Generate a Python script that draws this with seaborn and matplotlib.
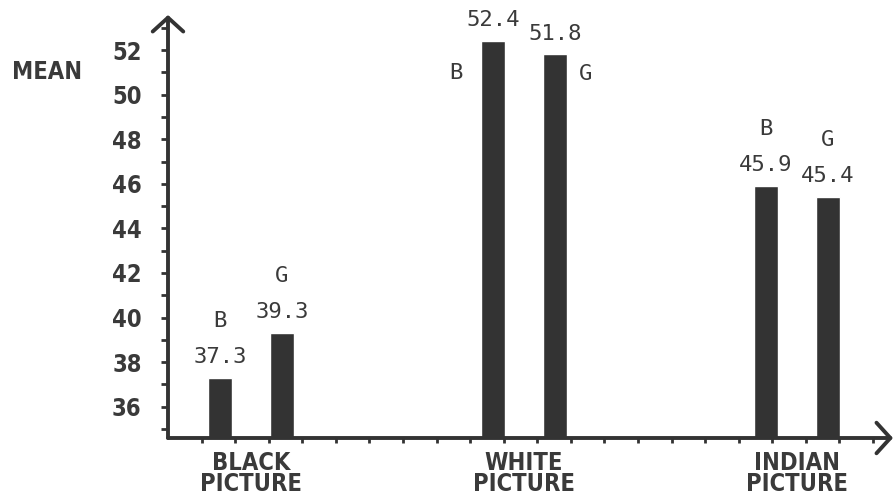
import numpy as np
import pandas as pd
import matplotlib
matplotlib.use("Agg")
import matplotlib.pyplot as plt
from matplotlib.ticker import FixedLocator, MultipleLocator
import seaborn as sns

pictures = ["BLACK\nPICTURE", "WHITE\nPICTURE", "INDIAN\nPICTURE"]
genders = ["B", "G"]
boys_mean = [37.3, 52.4, 45.9]
girls_mean = [39.3, 51.8, 45.4]
y_ticks = [36, 38, 40, 42, 44, 46, 48, 50, 52]

sns.set_theme(style="white")
plt.rcParams["font.family"] = ["DejaVu Sans"]
plt.rcParams["font.stretch"] = "condensed"

records = []
for pic, b, g in zip(pictures, boys_mean, girls_mean):
    records.append({"picture": pic, "gender": "B", "mean": b})
    records.append({"picture": pic, "gender": "G", "mean": g})
df = pd.DataFrame(records)

ink = "#333333"
txt = "#3a3a3a"
fig = plt.figure(figsize=(8.95, 4.98), dpi=100)
ax = fig.add_axes([168 / 895, 1 - 438 / 498, (893 - 168) / 895, (438 - 15) / 498])

sns.barplot(data=df, x="picture", y="mean", hue="gender", hue_order=genders,
            palette=[ink, ink], saturation=1, width=0.454, gap=0.6,
            legend=False, errorbar=None, ax=ax)

ax.set_xlim(-0.304, 2.352)
ax.set_ylim(34.6, 53.57)
ax.set_xlabel("")
ax.set_ylabel("")

for s in ax.spines.values():
    s.set_visible(False)

# axes drawn as arrows
arrow = dict(arrowstyle="->, head_length=0.5, head_width=0.55", lw=2.8,
             color=ink, shrinkA=0, shrinkB=0, mutation_scale=20)
ax.annotate("", xy=(0, 1), xytext=(0, 0), xycoords="axes fraction",
            arrowprops=arrow, annotation_clip=False)
ax.annotate("", xy=(1, 0), xytext=(0, 0), xycoords="axes fraction",
            arrowprops=arrow, annotation_clip=False)

ax.set_yticks(y_ticks)
ax.set_yticklabels([str(t) for t in y_ticks])
ax.yaxis.set_minor_locator(MultipleLocator(1))
ax.tick_params(axis="y", which="both", direction="out", length=5, width=2,
               color=ink, left=True, pad=14)
ax.tick_params(axis="y", which="major", labelsize=17, labelcolor=txt)
for lab in ax.get_yticklabels():
    lab.set_fontweight("bold")

ax.xaxis.set_minor_locator(FixedLocator(np.arange(-0.181, 2.3, 0.123)))
ax.tick_params(axis="x", which="major", length=0, pad=9, labelsize=17,
               labelcolor=txt)
ax.tick_params(axis="x", which="minor", direction="out", length=3.5, width=2,
               color=ink, bottom=True)
for lab in ax.get_xticklabels():
    lab.set_linespacing(0.85)
    lab.set_verticalalignment("top")
    lab.set_fontweight("bold")

fig.text(12 / 895, 1 - 72 / 498, "MEAN", fontsize=17, fontweight="bold",
         color=txt, ha="left", va="center")

# value and gender labels
letter_offsets = {
    (0, 0): (0, 41), (0, 1): (0, 41),
    (1, 0): (-27, -23), (1, 1): (22, -14),
    (2, 0): (0, 41), (2, 1): (0, 41),
}
mono = ["DejaVu Sans Mono"]
for gi, cont in enumerate(ax.containers):
    for ci, bar in enumerate(cont):
        xc = bar.get_x() + bar.get_width() / 2
        top = bar.get_height()
        ax.annotate(f"{top:.1f}", xy=(xc, top), xytext=(0, 15),
                    textcoords="offset points", ha="center", va="center",
                    fontsize=16, family=mono, color=txt)
        dx, dy = letter_offsets[(ci, gi)]
        ax.annotate(genders[gi], xy=(xc, top), xytext=(dx, dy),
                    textcoords="offset points", ha="center", va="center",
                    fontsize=16, family=mono, color=txt)

fig.savefig("out.png", dpi=100)
